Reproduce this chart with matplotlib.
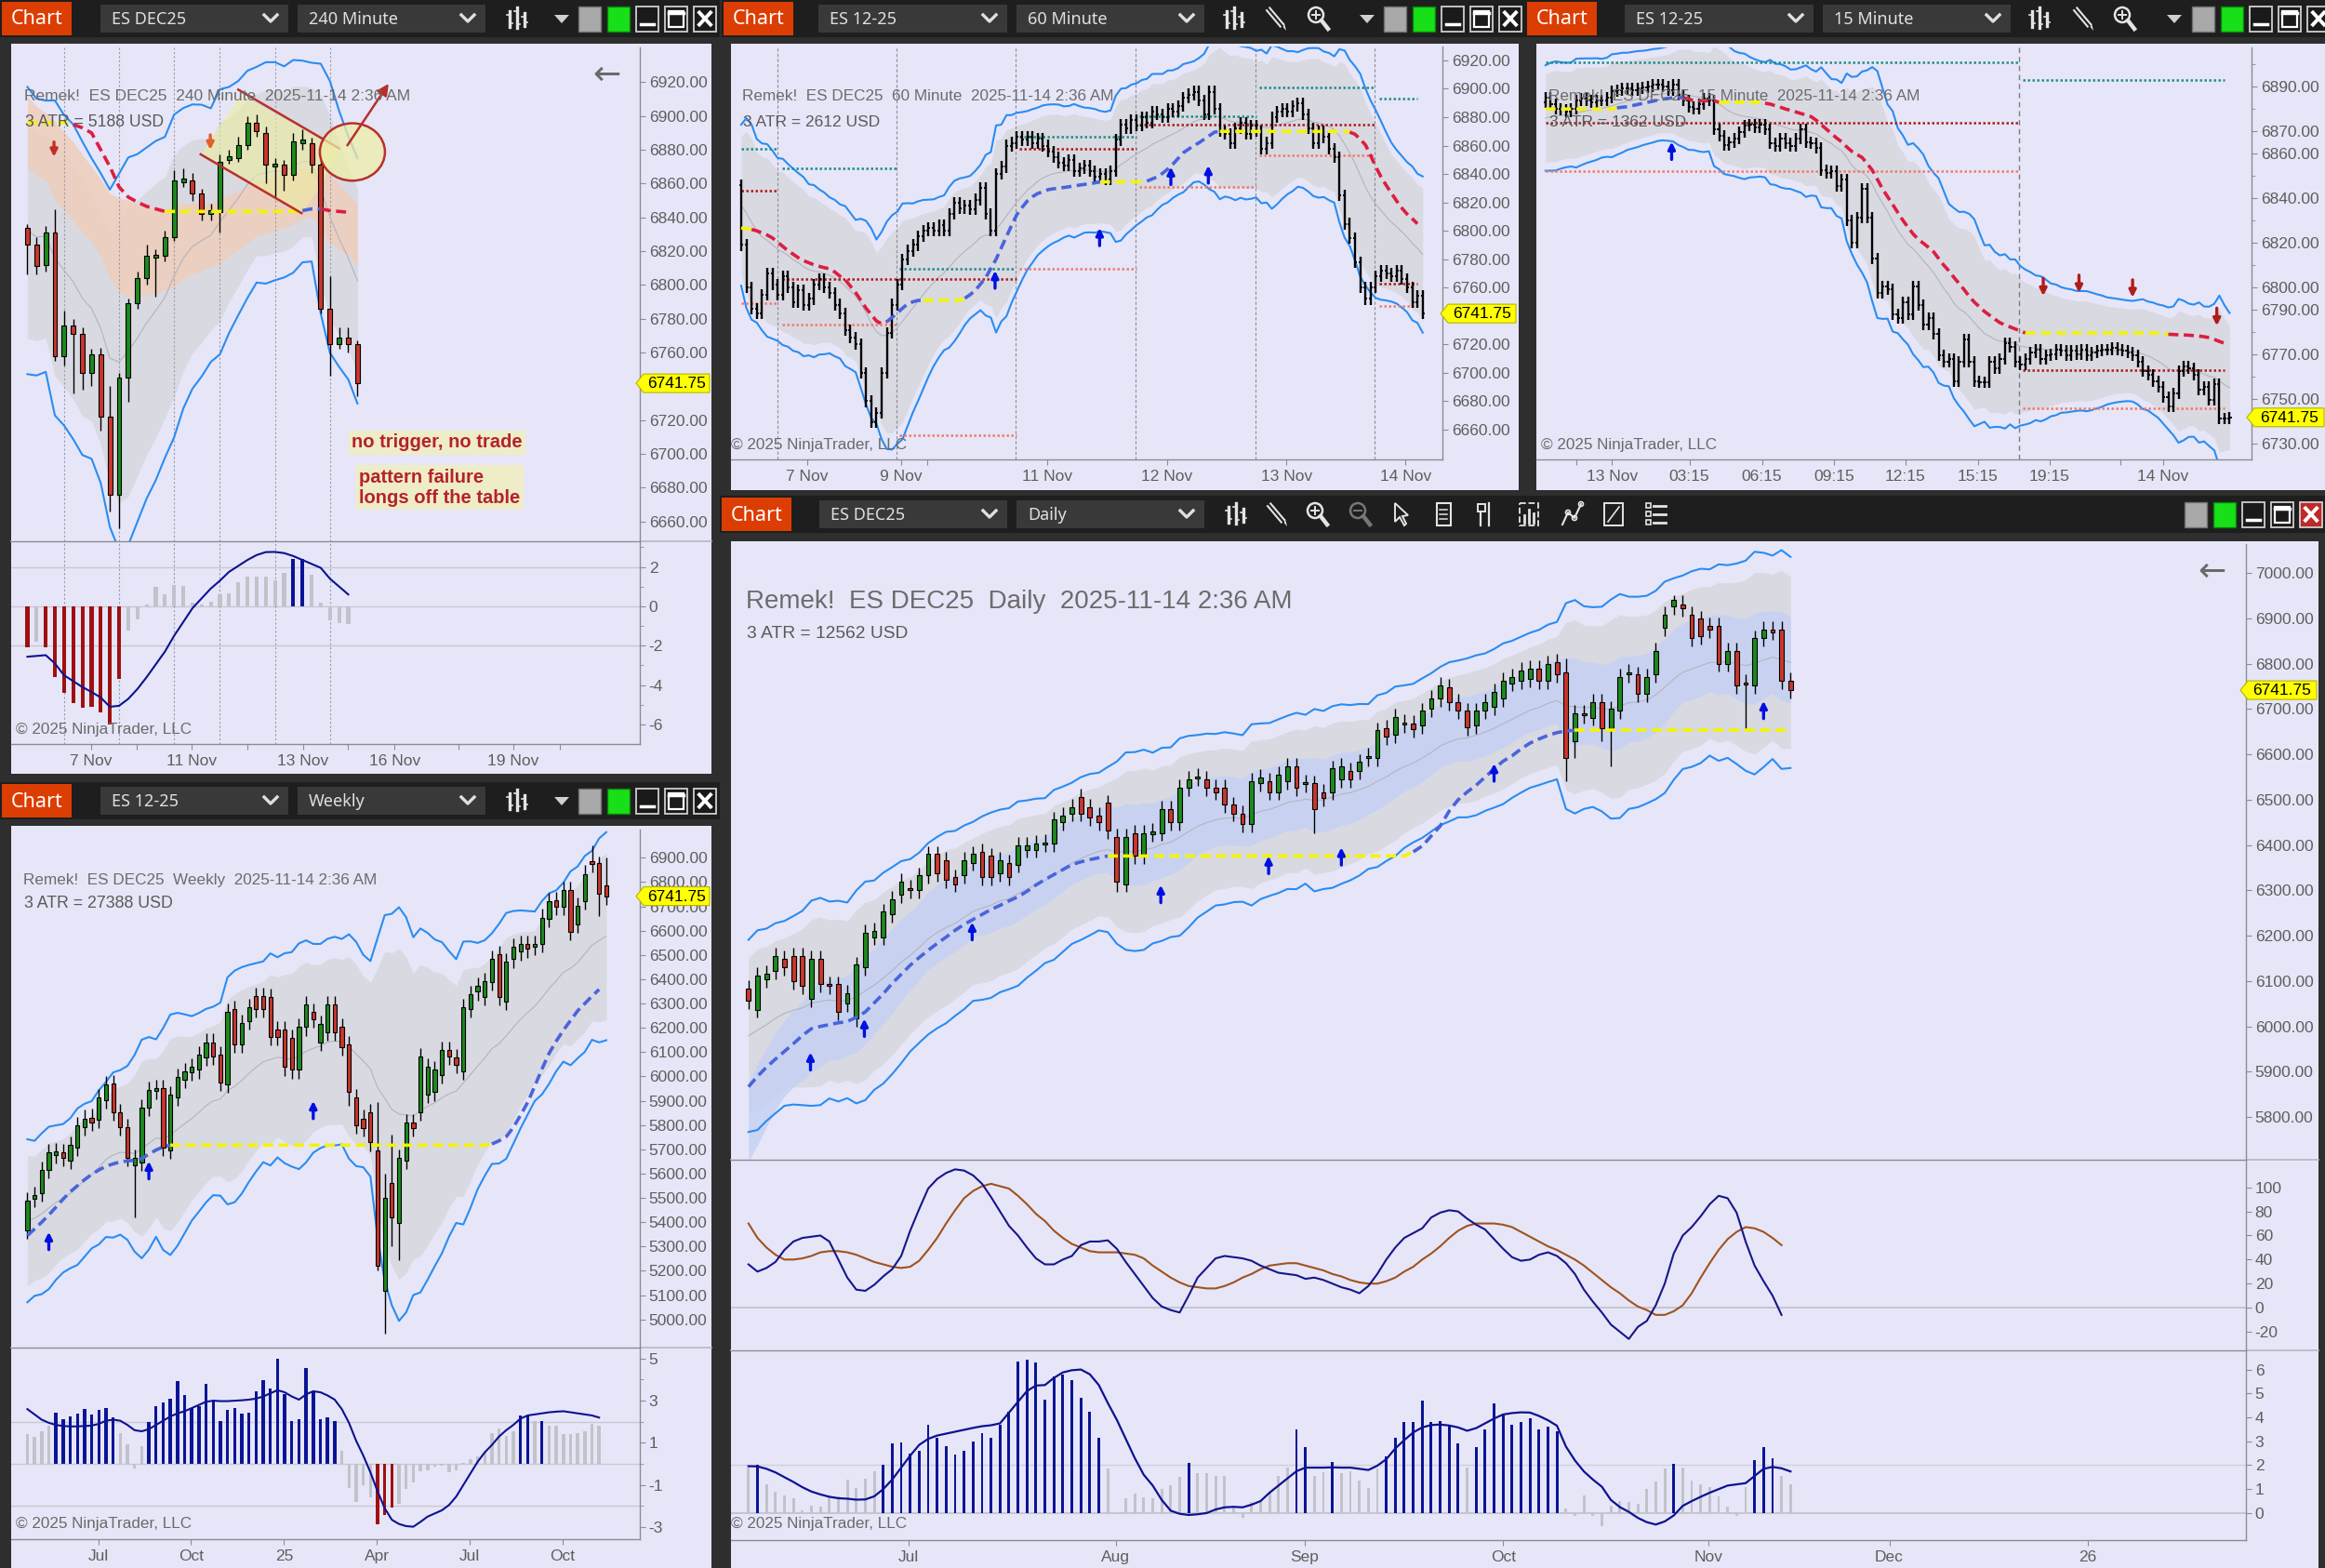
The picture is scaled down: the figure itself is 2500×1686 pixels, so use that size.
import numpy as np
import matplotlib.pyplot as plt
from matplotlib.patches import Rectangle, Polygon, Ellipse, Circle

plt.rcParams['font.family'] = ['Liberation Sans', 'DejaVu Sans']

W, H = 2500, 1686
LAV = '#e6e6f8'
FRAME = '#2e2e2e'
BAR_BG = '#1e1e1e'
TXT = '#5e5e5e'
AXC = '#8c8c96'
GREEN = '#1d8a1d'
RED = '#c9372c'
BANDC = '#2a8cf2'
FILLC = '#d9d9e2'
YEL = '#f4f400'
STOP_UP = '#4a64dc'
STOP_DN = '#dc1e40'
NAVY = '#0d1290'
HGRAY = '#c2c2ca'
HCOL = {'g': HGRAY, 'b': '#0a1496', 'r': '#a01010'}
SCOL = {'y': YEL, 'b': STOP_UP, 'r': STOP_DN}

# ---------------- 240 minute ----------------
m240_open = [6834, 6824, 6812, 6831, 6758, 6776, 6771, 6748, 6759, 6722, 6676, 6745, 6789, 6804, 6816,
             6817, 6828, 6861, 6862, 6854, 6842, 6843, 6874, 6875, 6883, 6896, 6890, 6870, 6871, 6865,
             6884, 6884, 6871, 6786, 6765, 6769, 6765]
m240_close = [6824, 6811, 6831, 6758, 6776, 6771, 6748, 6759, 6722, 6676, 6745, 6789, 6804, 6817, 6818,
              6828, 6862, 6863, 6854, 6842, 6844, 6873, 6876, 6883, 6896, 6891, 6871, 6872, 6865, 6885,
              6886, 6871, 6786, 6765, 6769, 6765, 6741.75]
m240_high = [6836, 6828, 6835, 6845, 6785, 6780, 6775, 6762, 6763, 6740, 6748, 6792, 6808, 6824, 6821,
             6832, 6868, 6869, 6866, 6857, 6848, 6877, 6880, 6888, 6900, 6901, 6894, 6875, 6874, 6890,
             6892, 6887, 6874, 6805, 6775, 6775, 6767]
m240_low = [6806, 6806, 6808, 6755, 6752, 6736, 6738, 6740, 6714, 6666, 6656, 6731, 6786, 6800, 6793,
            6814, 6826, 6858, 6850, 6838, 6838, 6831, 6872, 6873, 6880, 6888, 6860, 6852, 6856, 6862,
            6880, 6866, 6783, 6746, 6762, 6760, 6734]
m240_stop = [6896, 6896, 6896, 6896, 6896, 6895, 6893, 6890, 6880, 6870, 6858, 6852, 6849, 6846.5,
             6845] + [6843.5] * 15 + [6844, 6845, 6845, 6844, 6843.5, 6843]
m240_stop_col = 'yyyyy' + 'r' * 10 + 'y' * 15 + 'bb' + 'rrrr'
m240_hist = [-2.1, -1.8, -2.1, -3.6, -4.4, -4.9, -5.15, -5.1, -5.4, -6.0, -3.7, -1.25, -0.65, 0.1, 1.0,
             0.6, 1.1, 1.05, 0.2, 0.1, 0.25, 0.6, 0.65, 1.2, 1.5, 1.5, 1.5, 1.3, 1.7, 2.4, 2.4, 1.6,
             0.2, -0.7, -0.85, -0.9]
m240_hist_col = 'rgrrrrrrrrr' + 'g' * 18 + 'bb' + 'g' * 5
m240_line = [-2.56, -2.52, -2.48, -2.9, -3.5, -3.8, -4.1, -4.35, -4.63, -5.1, -5.05, -4.7, -4.2, -3.6,
             -2.95, -2.3, -1.5, -0.8, -0.1, 0.4, 0.9, 1.3, 1.75, 2.05, 2.35, 2.6, 2.75, 2.76, 2.7, 2.55,
             2.35, 2.15, 1.95, 1.4, 1.0, 0.6]
m240_sessions = [4, 10, 16, 21, 27, 33]
m240_ticks = [6.97, 11.97, 17.9, 24.0, 30.05, 35.0, 40.05, 47.0, 53.0, 58.1]
m240_ticklabels = ['7 Nov', '', '11 Nov', '', '13 Nov', '', '16 Nov', '', '19 Nov', '']
m240_yticks = [6660, 6680, 6700, 6720, 6760, 6780, 6800, 6820, 6840, 6860, 6880, 6900, 6920]
m240_down = [(2.9, 6875.8, '#c0302a'), (19.95, 6880.0, '#e0602a')]

# ---------------- 60 minute ----------------
m60_close = [6790, 6760, 6745, 6742, 6755, 6770, 6762, 6755, 6768, 6760,
             6750, 6758, 6748, 6752, 6762, 6766, 6760, 6756, 6748, 6742,
             6730, 6725, 6720, 6700, 6680, 6665, 6672, 6700, 6728, 6748,
             6762, 6780, 6786, 6790, 6796, 6800, 6802, 6800, 6804, 6800,
             6812, 6820, 6816, 6818, 6815, 6822, 6830, 6812, 6800, 6840,
             6845, 6860, 6862, 6866, 6864, 6866, 6862, 6865, 6860, 6856,
             6852, 6848, 6846, 6850, 6842, 6844, 6846, 6842, 6838, 6840,
             6836, 6842, 6864, 6875, 6872, 6878, 6874, 6880, 6876, 6884,
             6882, 6880, 6886, 6884, 6888, 6894, 6896, 6898, 6892, 6882,
             6898, 6886, 6870, 6868, 6862, 6872, 6876, 6868, 6874, 6870,
             6858, 6862, 6880, 6884, 6886, 6884, 6888, 6890, 6882, 6872,
             6862, 6870, 6866, 6858, 6852, 6825, 6805, 6795, 6778, 6760,
             6752, 6760, 6768, 6772, 6770, 6768, 6772, 6766, 6760, 6750,
             6754, 6741.75]
m60_first_open = 6832
m60_stop = [6802, 6801.5, 6801, 6800, 6798.5, 6797, 6795, 6792, 6789, 6786, 6783.5, 6781, 6779,
            6777.5, 6776, 6775, 6774, 6773.3, 6771, 6768, 6765.5, 6761, 6756.5, 6751, 6745.5, 6741,
            6736.5, 6734.5, 6736, 6739, 6742, 6745.5, 6748.5, 6750, 6751] + [6751] * 8 + \
           [6752.5, 6755, 6758, 6762.5, 6767, 6773.5, 6780, 6788, 6796, 6804, 6811.5, 6816.5, 6821,
            6824, 6826.3, 6827.5, 6829, 6829.6, 6830, 6830.5, 6831, 6831.6, 6832.2, 6832.7, 6833.2,
            6833.8] + [6834.5] * 9 + \
           [6835, 6836.5, 6838, 6840.5, 6843.5, 6847, 6851, 6855, 6857.5, 6860, 6862, 6864.5, 6867,
            6869.5] + [6870] * 25 + \
           [6869.5, 6868, 6864.5, 6860.5, 6853, 6845, 6838, 6832, 6826.5, 6821, 6816, 6811.8, 6808.5,
            6805]
m60_stop_col = 'yy' + 'r' * 26 + 'b' * 7 + 'y' * 8 + 'b' * 26 + 'y' * 9 + 'b' * 14 + 'y' * 25 + 'r' * 14
m60_sessions = [6.9, 29.9, 52.7, 75.8, 98.8, 121.8]
m60_ticks = [12.7, 30.7, 35.8, 58.8, 81.9, 104.8, 127.7]
m60_ticklabels = ['7 Nov', '9 Nov', '', '11 Nov', '12 Nov', '13 Nov', '14 Nov']
m60_yticks = [6660, 6680, 6700, 6720, 6760, 6780, 6800, 6820, 6840, 6860, 6880, 6900, 6920]
m60_teal = [(0, 6.9, 6858), (7.9, 29.9, 6844), (30.4, 52.4, 6773), (53.4, 76, 6866),
            (76.5, 99, 6881), (99.5, 122, 6901), (122.6, 130, 6893)]
m60_darkred = [(0, 6.9, 6828), (7.9, 52.9, 6766), (53.4, 76, 6858), (76.5, 122, 6875),
               (122.6, 130, 6763)]
m60_salmon = [(0, 6.9, 6749), (7.9, 29.9, 6734), (30.4, 52.9, 6656), (53.4, 76, 6773),
              (76.5, 99, 6831), (99.5, 122, 6853), (122.6, 130, 6747)]
m60_up = [(48.8, 6772), (68.9, 6802), (82.6, 6845), (89.8, 6846)]

# ---------------- 15 minute ----------------
m15_close = [6885, 6882.25, 6880, 6879.5, 6878.75, 6880, 6883.75, 6884.5, 6883.75, 6883,
             6883.75, 6883.75, 6885, 6888, 6888.5, 6889.25, 6889.25, 6888.5, 6889.25, 6889.5,
             6890, 6890.75, 6891, 6890, 6888.5, 6890.75, 6886.5, 6883.75, 6880.75, 6880,
             6882.25, 6884.5, 6883.75, 6871, 6868, 6864, 6865.25, 6866.75, 6869.5, 6872.5,
             6873, 6871.75, 6873, 6871, 6864.5, 6863.25, 6866.75, 6864.5, 6863.25, 6866.75,
             6871, 6865.25, 6864.5, 6862.5, 6852.5, 6851.25, 6852, 6845.5, 6848.5, 6830,
             6820.25, 6831.5, 6844.25, 6831.5, 6813, 6797.5, 6800.5, 6799, 6787.75, 6786.25,
             6793.5, 6787.75, 6800.5, 6792, 6783.5, 6786.25, 6779.25, 6769.5, 6766.5, 6768,
             6758, 6766.5, 6776.5, 6766.5, 6758, 6757.5, 6757.5, 6766.5, 6763.75, 6768,
             6775, 6773.5, 6766.5, 6765.25, 6768, 6770.75, 6772.25, 6768, 6769.5, 6770,
             6772.25, 6771.5, 6769.5, 6771.5, 6770, 6772.25, 6769.5, 6770.75, 6771.5, 6772.25,
             6772.25, 6773, 6772.25, 6771.5, 6770.75, 6769.5, 6766.5, 6762.5, 6761, 6758,
             6755.25, 6751, 6746.75, 6752.5, 6762.5, 6764.5, 6763.75, 6761, 6754, 6755.25,
             6749.75, 6756.75, 6741.25, 6741.25, 6741.75]
m15_first_open = 6883
m15_stop = [6880] * 14 + \
           [6880.5, 6880.8, 6881, 6881.5, 6882, 6882.5, 6883, 6883.5, 6884, 6884.4, 6884.8, 6885,
            6885.3, 6885, 6884.5] + [6883.7] * 5 + [6883] * 9 + \
           [6882.6, 6882.2, 6881.5, 6880.8, 6880, 6879.4, 6878.7, 6878, 6877.3, 6876.6, 6875, 6873,
            6871, 6869, 6867, 6865.3, 6863, 6861, 6859.6, 6858.3, 6855.5, 6852.6, 6848.5, 6844.2,
            6840.7, 6837.2, 6833.6, 6830.1, 6827, 6824, 6821.6, 6819.8, 6818, 6816, 6813, 6810,
            6807.5, 6804.5, 6801.8, 6799, 6796, 6793.4, 6791.3, 6789.2, 6787.5, 6785.8, 6784.2,
            6783.2, 6782.3, 6781.4, 6780.5] + [6779.6] * 28 + \
           [6779, 6778.9, 6778.8, 6778.7, 6778.6, 6778.4, 6778.2, 6777.9, 6777.5, 6776.7, 6775.8, 6775]
m15_stop_col = 'y' * 14 + 'b' * 13 + 'r' * 7 + 'y' * 9 + 'r' * 51 + 'y' * 28 + 'r' * 12
m15_sessions = [92.7]
m15_ticks = [6, 13, 28.2, 42.4, 56.5, 70.5, 84.7, 98.7, 112.7, 121]
m15_ticklabels = ['', '13 Nov', '03:15', '06:15', '09:15', '12:15', '15:15', '19:15', '', '14 Nov']
m15_yticks = [6730, 6750, 6770, 6790, 6800, 6820, 6840, 6860, 6870, 6890]
m15_teal = [(0, 93, 6901), (93.5, 133, 6893)]
m15_darkred = [(0, 93, 6874), (93.5, 133, 6763)]
m15_salmon = [(0, 93, 6852), (93.5, 133, 6746)]
m15_up = [(24.7, 6865.3)]
m15_down = [(97.5, 6796.2), (104.5, 6797.6), (115.0, 6795.5), (131.5, 6782.8)]

# ---------------- weekly ----------------
wk_open = [5366, 5496, 5521, 5614, 5676, 5686, 5655, 5707, 5790, 5831, 5821, 5903, 5972, 5852, 5790,
           5635, 5645, 5872, 5939, 5951, 5697, 5914, 5986, 6017, 6027, 6079, 6141, 6089, 5966, 6276,
           6131, 6228, 6331, 6331, 6327, 6193, 6193, 6158, 6027, 6203, 6265, 6141, 6183, 6296, 6203,
           6131, 5914, 5827, 5852, 5697, 5118, 5562, 5397, 5655, 5811, 5852, 5924, 5935, 6007, 6110,
           6079, 6021, 6276, 6348, 6327, 6389, 6503, 6307, 6482, 6513, 6544, 6534, 6544, 6648, 6726,
           6699, 6766, 6627, 6720, 6885, 6879, 6786]
wk_close = [5490, 5511, 5614, 5686, 5691, 5666, 5717, 5800, 5827, 5810, 5914, 5966, 5852, 5790, 5666,
            5666, 5872, 5945, 5951, 5707, 5924, 5996, 6021, 6038, 6089, 6141, 6083, 5976, 6265, 6131,
            6220, 6286, 6276, 6276, 6162, 6162, 6038, 6027, 6203, 6296, 6234, 6214, 6296, 6183, 6121,
            5935, 5800, 5786, 5728, 5221, 5500, 5418, 5666, 5811, 5786, 6083, 6038, 6027, 6110, 6083,
            6048, 6286, 6338, 6373, 6393, 6482, 6327, 6472, 6534, 6544, 6524, 6544, 6654, 6720, 6699,
            6766, 6596, 6703, 6834, 6875, 6751, 6741.75]
wk_high_ext = {49: 5893, 50: 5600, 51: 5760, 79: 6952, 80: 6906, 81: 6900, 19: 5985}
wk_low_ext = {15: 5418, 49: 5200, 50: 4942, 51: 5300, 52: 5242, 80: 6658, 45: 5880}
wk_stop = [5345, 5372, 5400, 5430, 5462, 5495, 5525, 5550, 5575, 5597, 5615, 5630, 5640, 5648, 5652,
           5655, 5662, 5680, 5697, 5710] + [5717] * 45 + \
          [5722, 5735, 5752, 5790, 5840, 5893, 5960, 6030, 6095, 6145, 6190, 6230, 6270, 6300, 6330, 6358]
wk_stop_col = 'b' * 20 + 'y' * 45 + 'b' * 16
wk_hist = [1.43, 1.3, 1.55, 1.8, 2.43, 2.14, 2.26, 2.38, 2.62, 2.33,
           2.57, 2.67, 2.2, 1.48, 0.95, -0.2, 0.83, 2.0, 2.74, 2.9,
           3.1, 3.93, 3.29, 2.67, 2.74, 3.81, 3.05, 2.02, 2.57, 2.67,
           2.38, 2.43, 3.45, 3.98, 3.57, 5.0, 3.33, 2.02, 2.14, 4.57,
           3.45, 2.14, 2.19, 2.02, 0.64, -1.14, -1.8, -1.0, -1.6, -2.86,
           -2.43, -2.07, -1.9, -1.19, -0.86, -0.36, -0.29, -0.14, -0.1, -0.38,
           -0.31, 0.05, 0.24, 0.36, 0.57, 1.48, 1.67, 1.33, 1.57, 2.31,
           2.31, 2.05, 2.05, 1.8, 1.8, 1.43, 1.43, 1.48, 1.57, 1.9, 1.8]
wk_hist_col = 'gggg' + 'b' * 9 + 'gggg' + 'b' * 27 + 'g' * 5 + 'rrr' + 'g' * 17 + 'bb' + 'g' + 'b' + 'g' * 8
wk_line = [2.6, 2.35, 2.1, 1.95, 1.85, 1.8, 1.78, 1.78, 1.8, 1.82, 1.9, 2.05, 2.1, 2.05, 1.85, 1.6,
           1.55, 1.65, 1.85, 2.05, 2.25, 2.4, 2.5, 2.65, 2.8, 2.95, 3.0, 2.98, 2.98, 3.0, 3.02, 3.05,
           3.1, 3.2, 3.35, 3.5, 3.4, 3.2, 3.05, 3.3, 3.45, 3.4, 3.25, 3.05, 2.6, 1.95, 1.1, 0.4, -0.4,
           -1.3, -2.1, -2.65, -2.85, -2.95, -2.98, -2.75, -2.5, -2.35, -2.2, -1.95, -1.55, -1.0, -0.45,
           0.1, 0.55, 0.9, 1.3, 1.6, 1.85, 2.15, 2.3, 2.35, 2.4, 2.45, 2.48, 2.5, 2.45, 2.4, 2.35, 2.3, 2.2]
wk_ticks = [9.9, 22.9, 35.9, 48.9, 61.9, 74.9]
wk_ticklabels = ['Jul', 'Oct', '25', 'Apr', 'Jul', 'Oct']
wk_up = [(3.0, 5360), (17.0, 5651), (40.0, 5899)]

# ---------------- daily ----------------
d1_open = [6084, 6037, 6103, 6122, 6150, 6155, 6155, 6060, 6150, 6093, 6093, 6051, 6018, 6131, 6197,
           6197, 6248, 6291, 6305, 6300, 6333, 6380, 6366, 6329, 6333, 6361, 6385, 6376, 6338, 6361,
           6357, 6390, 6390, 6402, 6404, 6451, 6470, 6507, 6484, 6465, 6493, 6418, 6314, 6427, 6376,
           6425, 6427, 6479, 6451, 6526, 6548, 6545, 6526, 6526, 6489, 6470, 6446, 6536, 6541, 6517,
           6541, 6574, 6534, 6536, 6517, 6517, 6545, 6564, 6564, 6592, 6592, 6658, 6644, 6666, 6668,
           6663, 6700, 6724, 6748, 6715, 6696, 6663, 6696, 6705, 6724, 6757, 6762, 6766, 6790, 6762,
           6804, 6781, 6630, 6691, 6681, 6715, 6658, 6696, 6776, 6776, 6733, 6776, 6879, 6927, 6931,
           6908, 6899, 6884, 6884, 6800, 6828, 6758, 6752, 6856, 6875, 6875, 6762]
d1_close = [6056, 6112, 6117, 6155, 6131, 6100, 6089, 6150, 6093, 6089, 6032, 6074, 6136, 6206, 6211,
            6253, 6281, 6319, 6300, 6333, 6380, 6338, 6324, 6314, 6366, 6380, 6329, 6329, 6366, 6329,
            6399, 6399, 6404, 6406, 6456, 6465, 6484, 6470, 6460, 6451, 6432, 6319, 6418, 6376, 6427,
            6430, 6479, 6451, 6526, 6545, 6552, 6526, 6517, 6489, 6470, 6446, 6541, 6550, 6517, 6555,
            6574, 6526, 6538, 6479, 6503, 6569, 6574, 6545, 6583, 6597, 6653, 6639, 6682, 6670, 6655,
            6696, 6724, 6752, 6715, 6696, 6659, 6696, 6715, 6738, 6762, 6771, 6785, 6790, 6762, 6799,
            6776, 6592, 6691, 6686, 6715, 6658, 6700, 6771, 6781, 6733, 6771, 6828, 6908, 6941, 6922,
            6856, 6861, 6875, 6800, 6828, 6752, 6755, 6856, 6875, 6870, 6762, 6741.75]
d1_high_ext = {103: 6952, 104: 6952, 91: 6812}
d1_low_ext = {91: 6540, 92: 6592, 95: 6630, 96: 6573, 63: 6427, 41: 6296, 111: 6653}
d1_stop = [5867, 5890, 5910, 5928, 5945, 5962, 5980, 5995, 6000, 6004, 6008, 6011, 6020, 6032, 6052,
           6072, 6095, 6115, 6135, 6152, 6168, 6183, 6197, 6212, 6225, 6236, 6247, 6258, 6267, 6277,
           6286, 6298, 6312, 6324, 6335, 6346, 6357, 6363, 6368, 6372] + [6376] * 34 + \
          [6385, 6398, 6420, 6442, 6475, 6500, 6517, 6532, 6550, 6568, 6585, 6597, 6612, 6625, 6634,
           6642, 6648, 6652] + [6653] * 25
d1_stop_col = 'b' * 40 + 'y' * 34 + 'b' * 18 + 'y' * 25
d1_hist = [1.9, 2.0, 1.2, 0.9, 0.75, 0.6, 0.1, 0.3, 0.25, 0.75, 0.7, 1.4, 1.05, 1.45, 1.75, 2.0,
           2.9, 2.95, 2.5, 2.6, 3.7, 3.15, 2.8, 2.45, 2.6, 3.0, 3.35, 3.15, 3.7, 4.25, 6.35, 6.4,
           6.3, 4.75, 5.7, 5.8, 5.55, 4.8, 4.25, 3.15, 1.85, -0.05, 0.6, 0.8, 0.65, 0.6, 1.0, 1.15,
           1.5, 2.1, 1.65, 1.65, 1.55, 1.55, 0.3, -0.2, 0.45, 0.55, 0.85, 1.55, 1.9, 3.5, 2.75, 1.55,
           1.7, 2.15, 1.65, 1.75, 1.35, 1.05, 1.85, 2.35, 3.15, 3.8, 3.8, 4.7, 3.8, 3.85, 3.7, 2.9,
           1.9, 2.75, 3.5, 4.6, 4.15, 3.7, 3.8, 3.95, 3.5, 3.6, 3.4, 0.2, -0.1, 0.75, -0.1, -0.55,
           0.3, 0.5, 0.45, 0.4, 1.0, 1.3, 1.85, 2.05, 1.9, 1.35, 1.2, 1.1, 0.7, 0.25, -0.1, 1.1,
           2.2, 2.75, 2.3, 1.55, 1.2]
d1_hist_blue = [1] + list(range(15, 40)) + [49, 61, 62, 65] + list(range(71, 80)) + \
    list(range(81, 91)) + [103, 112, 113, 114]
d1_hist_line = [1.96, 1.95, 1.85, 1.7, 1.5, 1.3, 1.08, 0.9, 0.78, 0.68, 0.62, 0.6, 0.56, 0.57, 0.7,
                1.0, 1.4, 1.9, 2.4, 2.85, 3.1, 3.24, 3.32, 3.4, 3.48, 3.56, 3.63, 3.67, 3.75, 4.2,
                4.65, 5.1, 5.33, 5.35, 5.65, 5.88, 5.97, 6.0, 5.8, 5.35, 4.6, 3.9, 3.1, 2.3, 1.6,
                1.15, 0.55, 0.1, -0.03, -0.08, -0.05, 0.0, 0.15, 0.24, 0.26, 0.24, 0.35, 0.5, 0.85,
                1.15, 1.45, 1.75, 1.9, 1.9, 1.9, 1.91, 1.9, 1.9, 1.85, 1.8, 1.98, 2.25, 2.7, 3.05,
                3.37, 3.58, 3.68, 3.7, 3.66, 3.58, 3.44, 3.55, 3.75, 3.95, 4.12, 4.18, 4.21, 4.2,
                4.06, 3.88, 3.65, 2.78, 2.2, 1.74, 1.4, 1.1, 0.55, 0.25, 0.05, -0.2, -0.38, -0.48,
                -0.35, -0.1, 0.3, 0.5, 0.68, 0.85, 1.0, 1.15, 1.2, 1.25, 1.55, 1.85, 1.93, 1.87, 1.74]
d1_osc_fast = [36, 30, 33, 38, 48, 55, 58, 59, 60, 55, 40, 25, 15, 14, 19, 26, 32, 43, 64, 82, 99,
               107, 112, 115, 114, 110, 103, 92, 80, 68, 60, 50, 41, 36, 36, 40, 43, 52, 55, 55, 56,
               49, 38, 28, 18, 8, 1, -2, -4, 10, 25, 33, 41, 43, 42, 41, 39, 35, 32, 29, 28, 27, 24,
               25, 23, 20, 17, 15, 12, 18, 28, 40, 50, 58, 62, 66, 75, 79, 81, 80, 74, 69, 65, 57,
               49, 42, 39, 40, 44, 46, 43, 37, 28, 15, 5, -4, -14, -20, -26, -16, -11, 2, 20, 45,
               60, 67, 76, 86, 93, 91, 79, 55, 35, 22, 10, -6]
d1_osc_slow = [70, 58, 50, 44, 40, 40, 41, 43, 46, 47, 47, 46, 44, 41, 38, 36, 34, 33, 34, 39, 48,
               58, 70, 81, 91, 97, 101, 103, 101, 99, 93, 86, 78, 72, 64, 58, 53, 50, 47, 46, 46,
               46, 45, 44, 41, 35, 30, 25, 21, 18, 17, 16, 16, 18, 21, 25, 28, 32, 35, 36, 37, 37,
               35, 33, 31, 28, 26, 23, 21, 20, 20, 22, 25, 30, 34, 40, 45, 51, 58, 64, 68, 70, 70,
               70, 69, 67, 63, 59, 55, 51, 48, 44, 40, 35, 29, 23, 17, 12, 6, 1, -2, -6, -6, -3, 2,
               12, 25, 37, 48, 57, 63, 67, 66, 63, 58, 52]
d1_ticks = [17.8, 40.9, 61.9, 84.0, 106.9, 127.0, 149.1]
d1_ticklabels = ['Jul', 'Aug', 'Sep', 'Oct', 'Nov', 'Dec', '26']
d1_up = [(6.9, 5943), (12.9, 6017), (24.9, 6230), (45.9, 6312), (57.9, 6376), (66.0, 6395),
         (83.0, 6580), (113.0, 6718)]
LAST = 6741.75


# ---------------- helpers ----------------
def ema(x, span, seed):
    a = 2.0 / (span + 1.0)
    out = np.empty(len(x))
    v = seed
    for i, xi in enumerate(x):
        v += a * (xi - v)
        out[i] = v
    return out


def true_range(h, l, c):
    pc = np.r_[c[0], c[:-1]]
    return np.maximum(h, pc) - np.minimum(l, pc)


def hl_from(o, c, wick, hi_ext=None, lo_ext=None):
    h = np.maximum(o, c) + wick
    l = np.minimum(o, c) - wick
    for k, v in (hi_ext or {}).items():
        h[k] = v
    for k, v in (lo_ext or {}).items():
        l[k] = v
    return h, l


def plot_stop(ax, vals, cols, lw=2.6):
    vals = np.asarray(vals, float)
    n = len(vals)
    start = 0
    for i in range(1, n + 1):
        if i == n or cols[i] != cols[start]:
            end = min(i, n - 1)
            xs = np.arange(start, end + 1)
            ax.plot(xs, vals[start:end + 1], color=SCOL[cols[start]], lw=lw, ls=(0, (3, 1.6)),
                    zorder=6, dash_capstyle='butt')
            start = i


def bands(ax, c, atr, span, seed, kg, kb):
    x = np.arange(len(c))
    mid = ema(c, span, seed)
    ax.fill_between(x, mid - kg * atr, mid + kg * atr, color=FILLC, lw=0, zorder=1)
    ax.plot(x, mid + kb * atr, color=BANDC, lw=1.5, zorder=3)
    ax.plot(x, mid - kb * atr, color=BANDC, lw=1.5, zorder=3)
    ax.plot(x, mid, color='#b4b4bc', lw=0.8, zorder=2)


def candles(ax, o, h, l, c, width):
    x = np.arange(len(c))
    o, c = np.asarray(o, float), np.asarray(c, float)
    ax.vlines(x, l, h, color='black', lw=1.0, zorder=4)
    body = np.maximum(np.abs(c - o), 0.3)
    ax.bar(x, body, width, bottom=np.minimum(o, c), color=np.where(c >= o, GREEN, RED),
           edgecolor='black', linewidth=0.8, zorder=5)


def ohlc(ax, o, h, l, c, tick):
    x = np.arange(len(c))
    ax.vlines(x, l, h, color='black', lw=1.7, zorder=5)
    ax.hlines(o, x - tick, x, color='black', lw=1.3, zorder=5)
    ax.hlines(c, x, x + tick, color='black', lw=1.3, zorder=5)


def arrows(ax, pts, color, up=True, length=19):
    for p in pts:
        ax.annotate('', xy=(p[0], p[1]), xytext=(0, -length if up else length),
                    textcoords='offset pixels', zorder=7,
                    arrowprops=dict(arrowstyle='-|>', color=color, lw=2.4, mutation_scale=11,
                                    shrinkA=0, shrinkB=0))


def levels(ax, segs, color):
    for a, b, v in segs:
        ax.hlines(v, a, b, color=color, lw=1.8, ls=(0, (1, 1)), zorder=3)


def px_axes(x0, y0, x1, y1):
    return fig.add_axes([x0 / W, 1 - y1 / H, (x1 - x0) / W, (y1 - y0) / H])


def style(ax, xlim, ylim, yticks, ylabels, minor=None, bottom=False, top=False):
    ax.set_facecolor(LAV)
    ax.set_xlim(*xlim)
    ax.set_ylim(*ylim)
    ax.yaxis.tick_right()
    ax.set_yticks(yticks)
    ax.set_yticklabels(ylabels)
    if minor is not None:
        ax.set_yticks(minor, minor=True)
    for s in ax.spines.values():
        s.set_color(AXC)
        s.set_linewidth(1.0)
    ax.spines['left'].set_visible(False)
    ax.spines['top'].set_visible(top)
    ax.spines['bottom'].set_visible(bottom)
    ax.tick_params(axis='y', which='both', colors=AXC, labelcolor=TXT, labelsize=12.5,
                   length=4, pad=3)
    ax.tick_params(axis='y', which='minor', length=3)
    if not bottom:
        ax.set_xticks([])


def xaxis(ax, ticks, labels):
    ax.set_xticks(ticks)
    ax.set_xticklabels(labels)
    ax.tick_params(axis='x', colors=AXC, labelcolor=TXT, labelsize=12.5, length=4, pad=4)


def fmt2(vals):
    return ['%.2f' % v for v in vals]


# ---------------- figure & chrome ----------------
fig = plt.figure(figsize=(W / 100, H / 100), dpi=100)
fig.patch.set_facecolor(FRAME)
bg = fig.add_axes([0, 0, 1, 1])
bg.set_xlim(0, W)
bg.set_ylim(H, 0)
bg.axis('off')

for x0, y0, x1, y1 in [(12, 47, 765, 832), (786, 47, 1633, 527), (1652, 47, 2500, 527),
                       (12, 888, 765, 1686), (786, 582, 2493, 1686)]:
    bg.add_patch(Rectangle((x0, y0), x1 - x0, y1 - y0, fc=LAV, ec='none'))
for x0, x1, y in [(12, 765, 582), (12, 765, 1449), (786, 2493, 1247), (786, 2493, 1452)]:
    bg.plot([x0, x1], [y, y], color='#b8b8c4', lw=1.2)

WH = '#e4e4e4'


def icon(kind, cx, cy):
    if kind == 'bars':
        for dx, t, b in [(-8, -8, 9), (0, -12, 10), (8, -6, 8)]:
            bg.plot([cx + dx, cx + dx], [cy + t, cy + b], color=WH, lw=2.4)
            bg.plot([cx + dx - 3, cx + dx], [cy + t + 4, cy + t + 4], color=WH, lw=1.2)
            bg.plot([cx + dx, cx + dx + 3], [cy + b - 4, cy + b - 4], color=WH, lw=1.2)
    elif kind == 'pencil':
        bg.plot([cx - 9, cx + 7], [cy - 11, cy + 8], color=WH, lw=4.5, solid_capstyle='butt')
        bg.plot([cx - 9, cx + 7], [cy - 11, cy + 8], color=BAR_BG, lw=1.5)
        bg.add_patch(Polygon([(cx + 5, cy + 6), (cx + 11, cy + 13), (cx + 9, cy + 5)], fc=WH))
    elif kind in ('zoom', 'zoomout'):
        col = WH if kind == 'zoom' else '#777777'
        bg.add_patch(Circle((cx - 3, cy - 4), 8, fill=False, ec=col, lw=1.8))
        bg.plot([cx + 3, cx + 10], [cy + 2, cy + 11], color=col, lw=3.2)
        bg.plot([cx - 7, cx + 1], [cy - 4, cy - 4], color=col, lw=1.4)
        if kind == 'zoom':
            bg.plot([cx - 3, cx - 3], [cy - 8, cy], color=col, lw=1.4)
    elif kind == 'tri':
        bg.add_patch(Polygon([(cx - 8, cy - 4), (cx + 8, cy - 4), (cx, cy + 5)], fc='#d0d0d0'))
    elif kind == 'cursor':
        bg.add_patch(Polygon([(cx - 6, cy - 12), (cx - 6, cy + 8), (cx - 1, cy + 3), (cx + 4, cy + 12),
                              (cx + 6, cy + 10), (cx + 2, cy + 2), (cx + 8, cy + 1)],
                             fill=False, ec=WH, lw=1.4))
    elif kind == 'doc':
        bg.add_patch(Rectangle((cx - 8, cy - 12), 15, 24, fill=False, ec=WH, lw=1.5))
        for dy in (-5, 0, 5):
            bg.plot([cx - 5, cx + 3], [cy + dy, cy + dy], color=WH, lw=1.1)
    elif kind == 'split':
        bg.add_patch(Rectangle((cx - 9, cy - 11), 8, 8, fill=False, ec=WH, lw=1.4))
        bg.plot([cx + 3, cx + 3], [cy - 12, cy + 12], color=WH, lw=1.6)
        bg.plot([cx - 6, cx - 6], [cy - 3, cy + 12], color=WH, lw=1.6)
    elif kind == 'hist':
        bg.add_patch(Rectangle((cx - 10, cy - 12), 20, 24, fill=False, ec=WH, lw=1.3, ls='--'))
        for dx, hh in [(-5, 8), (0, 14), (5, 10)]:
            bg.plot([cx + dx, cx + dx], [cy + 9, cy + 9 - hh], color=WH, lw=2)
    elif kind == 'line':
        bg.plot([cx - 10, cx - 4, cx + 3, cx + 10], [cy + 11, cy - 2, cy + 4, cy - 11], color=WH, lw=1.5)
        for px, py in [(cx - 4, cy - 2), (cx + 3, cy + 4), (cx + 10, cy - 11)]:
            bg.add_patch(Circle((px, py), 2.5, fill=False, ec=WH, lw=1.2))
    elif kind == 'calc':
        bg.add_patch(Rectangle((cx - 10, cy - 12), 20, 24, fill=False, ec=WH, lw=1.4))
        bg.plot([cx - 6, cx + 6], [cy + 8, cy - 8], color=WH, lw=1.2)
    elif kind == 'list':
        for dy in (-9, 0, 9):
            bg.add_patch(Rectangle((cx - 10, cy + dy - 3), 5, 5, fill=False, ec=WH, lw=1.2))
            bg.plot([cx - 2, cx + 11], [cy + dy, cy + dy], color=WH, lw=2)


def title_bar(x0, x1, y0, y1, dds, icons, bx, close_red=False):
    bg.add_patch(Rectangle((x0, y0), x1 - x0, y1 - y0, fc=BAR_BG, ec='none'))
    bg.add_patch(Rectangle((x0 + 2, y0 + 2), 75, y1 - y0 - 4, fc='#dc3d02', ec='none'))
    cy = (y0 + y1) / 2
    bg.text(x0 + 39.5, cy + 1, 'Chart', color='white', fontsize=15.5, ha='center', va='center',
            family=['Noto Sans', 'DejaVu Sans'])
    for dx0, dx1, label in dds:
        bg.add_patch(Rectangle((dx0, y0 + 5), dx1 - dx0, y1 - y0 - 10, fc='#393939', ec='none'))
        bg.text(dx0 + 12, cy + 1, label, color='#e0e0e0', fontsize=13, ha='left', va='center',
                family=['Noto Sans', 'DejaVu Sans'])
        bg.plot([dx1 - 26, dx1 - 19, dx1 - 12], [cy - 4, cy + 3, cy - 4], color='#e0e0e0', lw=2.4)
    for kind, cx in icons:
        icon(kind, cx, cy)
    bw, bh = 24, 27
    by = cy - bh / 2
    bg.add_patch(Rectangle((bx, by), bw, bh, fc='#a9a9a9', ec='#707070', lw=1))
    bg.add_patch(Rectangle((bx + 31, by), bw, bh, fc='#18e018', ec='#0c800c', lw=1))
    for j in range(3):
        fx = bx + 62 + 31 * j
        fc = '#c0282a' if (j == 2 and close_red) else '#1a1a1a'
        bg.add_patch(Rectangle((fx, by), bw, bh, fc=fc, ec='#cfcfcf', lw=1.3))
        if j == 0:
            bg.plot([fx + 5, fx + 19], [by + 19, by + 19], color='white', lw=2.5)
        elif j == 1:
            bg.add_patch(Rectangle((fx + 4, by + 5), 16, 17, fill=False, ec='white', lw=1.6))
            bg.plot([fx + 4, fx + 20], [by + 7, by + 7], color='white', lw=2.5)
        else:
            bg.plot([fx + 6, fx + 18], [by + 7, by + 20], color='white', lw=2.8)
            bg.plot([fx + 6, fx + 18], [by + 20, by + 7], color='white', lw=2.8)


title_bar(0, 774, 0, 40, [(108, 310, 'ES DEC25'), (320, 522, '240 Minute')],
          [('bars', 556), ('tri', 604)], 622)
title_bar(776, 1640, 0, 40, [(880, 1083, 'ES 12-25'), (1093, 1295, '60 Minute')],
          [('bars', 1327), ('pencil', 1372), ('zoom', 1418), ('tri', 1470)], 1488)
title_bar(1640, 2500, 0, 40, [(1747, 1950, 'ES 12-25'), (1960, 2162, '15 Minute')],
          [('bars', 2193), ('pencil', 2240), ('zoom', 2285), ('tri', 2338)], 2357)
title_bar(0, 774, 841, 881, [(108, 310, 'ES 12-25'), (320, 522, 'Weekly')],
          [('bars', 556), ('tri', 604)], 622)
title_bar(774, 2500, 533, 573, [(881, 1083, 'ES DEC25'), (1093, 1295, 'Daily')],
          [('bars', 1329), ('pencil', 1373), ('zoom', 1417), ('zoomout', 1463), ('cursor', 1506),
           ('doc', 1553), ('split', 1598), ('hist', 1644), ('line', 1690), ('calc', 1735),
           ('list', 1780)], 2349, close_red=True)

# ---------------- 240 minute chart ----------------
o = np.array(m240_open, float)
c = np.array(m240_close, float)
h = np.array(m240_high, float)
l = np.array(m240_low, float)
atr = ema(true_range(h, l, c), 20, 36)
xl = (-1.77, 66.8)
ax = px_axes(12, 51, 688, 582)
axh = px_axes(12, 582, 688, 800)
style(ax, xl, (6648.2, 6940.6), m240_yticks, fmt2(m240_yticks))
style(axh, xl, (-6.99, 3.3), [2, 0, -2, -4, -6], ['2', '0', '-2', '-4', '-6'],
      minor=[3, 1, -1, -3, -5], bottom=True, top=True)
xaxis(axh, m240_ticks, m240_ticklabels)
x = np.arange(len(c))
zone = ema(c, 30, 6895)
ax.fill_between(x, zone - 0.6 * atr, zone + 0.6 * atr, color='#f0cdb8', alpha=0.8, lw=0, zorder=1.5)
bands(ax, c, atr, 10, 6834, 1.8, 2.4)
for s in m240_sessions:
    ax.axvline(s, color='#9c9ca8', lw=0.8, ls=(0, (2, 2)), zorder=1.8)
    axh.axvline(s, color='#9c9ca8', lw=0.8, ls=(0, (2, 2)), zorder=1)
flag = Polygon([(19.0, 6877.8), (23.2, 6912.6), (34.1, 6880.8), (31.8, 6856.6), (29.9, 6842.5)],
               fc='#eeeea0', alpha=0.6, ec='none', zorder=2.5)
ax.add_patch(flag)
candles(ax, o, h, l, c, 0.5)
plot_stop(ax, m240_stop, m240_stop_col)
ax.plot([23.0, 34.0], [6915.6, 6880.8], color='#b8302a', lw=1.8, zorder=7)
ax.plot([18.9, 29.9], [6877.3, 6842.5], color='#b8302a', lw=1.8, zorder=7)
ax.add_patch(Ellipse((35.45, 6878.7), 7.1, 34, fc='#eeeea8', alpha=0.75, ec='none', zorder=7))
ax.add_patch(Ellipse((35.45, 6878.7), 7.1, 34, fill=False, ec='#b8302a', lw=1.8, zorder=7))
ax.annotate('', xy=(39.4, 6919.1), xytext=(34.9, 6882.6), zorder=7,
            arrowprops=dict(arrowstyle='-|>', color='#b8302a', lw=1.8, mutation_scale=18,
                            shrinkA=0, shrinkB=0))
for bx_, py, colr in m240_down:
    arrows(ax, [(bx_, py)], colr, up=False, length=16)
ax.text(35.4, 6706.8, 'no trigger, no trade', color='#b4232a', fontsize=14.5, weight='bold',
        va='center', ha='left', zorder=8, bbox=dict(fc='#efecc8', ec='none', pad=2.5))
ax.text(36.2, 6680.0, 'pattern failure\nlongs off the table', color='#b4232a', fontsize=14.5,
        weight='bold', va='center', ha='left', linespacing=1.2, zorder=8,
        bbox=dict(fc='#efecc8', ec='none', pad=2.5))
hx = np.arange(len(m240_hist))
for yv in (2, 0, -2):
    axh.axhline(yv, color='#c8c8d0', lw=1, zorder=0.5)
axh.bar(hx, m240_hist, 0.42, color=[HCOL[k] for k in m240_hist_col], zorder=3)
axh.plot(np.arange(len(m240_line)), m240_line, color=NAVY, lw=1.5, zorder=4)
ax240 = ax

# ---------------- 60 minute chart ----------------
c = np.array(m60_close, float)
o = np.r_[m60_first_open, c[:-1]]
h, l = hl_from(o, c, 4.0)
atr = ema(true_range(h, l, c), 14, 11)
ax = px_axes(786, 50, 1551, 494)
style(ax, (-1.96, 134.8), (6639, 6929.8), m60_yticks, fmt2(m60_yticks), bottom=True)
xaxis(ax, m60_ticks, m60_ticklabels)
bands(ax, c, atr, 20, 6821, 3.0, 3.5)
for sx in m60_sessions:
    ax.axvline(sx, color='#8c8c98', lw=0.8, ls=(0, (3, 2)), zorder=1.8)
levels(ax, m60_teal, '#1f8f86')
levels(ax, m60_darkred, '#b01a1a')
levels(ax, m60_salmon, '#f27a6a')
ohlc(ax, o, h, l, c, 0.35)
plot_stop(ax, m60_stop, m60_stop_col)
arrows(ax, m60_up, '#0010e0')
ax60 = ax

# ---------------- 15 minute chart ----------------
c = np.array(m15_close, float)
o = np.r_[m15_first_open, c[:-1]]
h, l = hl_from(o, c, 2.5)
atr = ema(true_range(h, l, c), 14, 6.5)
ax = px_axes(1652, 51, 2421, 494)
style(ax, (-1.8, 138.3), (6722.9, 6907.6), m15_yticks, fmt2(m15_yticks),
      minor=list(range(6730, 6901, 10)), bottom=True)
xaxis(ax, m15_ticks, m15_ticklabels)
bands(ax, c, atr, 20, 6875, 3.0, 3.6)
for sx in m15_sessions:
    ax.axvline(sx, color='#7c7c88', lw=1.0, ls=(0, (4, 3)), zorder=1.8)
levels(ax, m15_teal, '#1f8f86')
levels(ax, m15_darkred, '#b01a1a')
levels(ax, m15_salmon, '#f27a6a')
ohlc(ax, o, h, l, c, 0.4)
plot_stop(ax, m15_stop, m15_stop_col)
arrows(ax, m15_up, '#0010e0')
arrows(ax, m15_down, '#b01c1c', up=False)
ax15 = ax

# ---------------- weekly chart ----------------
o = np.array(wk_open, float)
c = np.array(wk_close, float)
h, l = hl_from(o, c, 35.0, wk_high_ext, wk_low_ext)
atr = ema(true_range(h, l, c), 14, 125)
xl = (-2.27, 85.7)
ax = px_axes(12, 892, 688, 1449)
axh = px_axes(12, 1449, 688, 1655)
style(ax, xl, (4884, 7015.8), list(range(5000, 6901, 100)), fmt2(range(5000, 6901, 100)))
style(axh, xl, (-3.57, 5.52), [5, 3, 1, -1, -3], ['5', '3', '1', '-1', '-3'],
      minor=[4, 2, 0, -2], bottom=True, top=True)
xaxis(axh, wk_ticks, wk_ticklabels)
bands(ax, c, atr, 20, 5397, 2.0, 2.5)
candles(ax, o, h, l, c, 0.55)
plot_stop(ax, wk_stop, wk_stop_col)
arrows(ax, wk_up, '#0010e0')
for yv in (2, 0, -2):
    axh.axhline(yv, color='#c8c8d0', lw=1, zorder=0.5)
axh.bar(np.arange(len(wk_hist)), wk_hist, 0.45, color=[HCOL[k] for k in wk_hist_col], zorder=3)
axh.plot(np.arange(len(wk_line)), wk_line, color=NAVY, lw=1.5, zorder=4)
axwk = ax

# ---------------- daily chart ----------------
o = np.array(d1_open, float)
c = np.array(d1_close, float)
h, l = hl_from(o, c, 18.0, d1_high_ext, d1_low_ext)
atr = ema(true_range(h, l, c), 20, 80)
xl = (-1.95, 166.7)
ax = px_axes(786, 585, 2415, 1247)
axo = px_axes(786, 1247, 2415, 1452)
axh = px_axes(786, 1452, 2415, 1656)
style(ax, xl, (5706, 7064), list(range(5800, 7001, 100)), fmt2(range(5800, 7001, 100)))
style(axo, xl, (-35.5, 123), list(range(-20, 101, 20)), [str(v) for v in range(-20, 101, 20)], top=True)
style(axh, xl, (-1.13, 6.8), list(range(0, 7)), [str(v) for v in range(0, 7)], bottom=True, top=True)
xaxis(axh, d1_ticks, d1_ticklabels)
x = np.arange(len(c))
bands(ax, c, atr, 20, 5971, 2.2, 2.7)
zone = ema(c, 15, 5750)
ax.fill_between(x, zone - 1.1 * atr, zone + 1.1 * atr, color='#c6d1f3', alpha=0.85, lw=0, zorder=1.5)
candles(ax, o, h, l, c, 0.5)
plot_stop(ax, d1_stop, d1_stop_col)
arrows(ax, d1_up, '#0010e0')
axo.axhline(0, color='#c0c0c8', lw=1.2, zorder=0.5)
axo.plot(np.arange(len(d1_osc_slow)), d1_osc_slow, color='#a0521e', lw=1.5, zorder=3)
axo.plot(np.arange(len(d1_osc_fast)), d1_osc_fast, color='#16168a', lw=1.5, zorder=4)
axh.axhline(0, color='#c0c0c8', lw=1.2, zorder=0.5)
axh.axhline(2, color='#d0d0d8', lw=1.0, zorder=0.5)
hc = [HCOL['b'] if i in d1_hist_blue else HGRAY for i in range(len(d1_hist))]
axh.bar(np.arange(len(d1_hist)), d1_hist, 0.3, color=hc, zorder=3)
axh.plot(np.arange(len(d1_hist_line)), d1_hist_line, color=NAVY, lw=1.6, zorder=4)
axd1 = ax

# ---------------- texts & tags (top overlay) ----------------
top = fig.add_axes([0, 0, 1, 1], zorder=10)
top.set_xlim(0, W)
top.set_ylim(H, 0)
top.axis('off')
top.patch.set_alpha(0)

heads = [(26, 103, 131, 'Remek!  ES DEC25  240 Minute  2025-11-14 2:36 AM', '3 ATR = 5188 USD', 12.5, 12.7),
         (798, 104, 131, 'Remek!  ES DEC25  60 Minute  2025-11-14 2:36 AM', '3 ATR = 2612 USD', 12.3, 12.5),
         (1665, 104, 131, 'Remek!  ES DEC25  15 Minute  2025-11-14 2:36 AM', '3 ATR = 1362 USD', 12.3, 12.5),
         (25, 946, 972, 'Remek!  ES DEC25  Weekly  2025-11-14 2:36 AM', '3 ATR = 27388 USD', 12.3, 12.8),
         (802, 647, 681, 'Remek!  ES DEC25  Daily  2025-11-14 2:36 AM', '3 ATR = 12562 USD', 20, 13.8)]
for hx0, y1, y2, t1, t2, f1, f2 in heads:
    top.text(hx0, y1, t1, color='#6c6c6c', fontsize=f1, ha='left', va='center')
    top.text(hx0 + 1, y2, t2, color='#5a5a5a', fontsize=f2, ha='left', va='center')

for cx_, cy_ in [(17, 784), (786, 478), (1657, 478), (17, 1639), (786, 1638)]:
    top.text(cx_, cy_, '\u00a9 2025 NinjaTrader, LLC', color='#6a6a6a', fontsize=12.3,
             ha='left', va='center')

for ax_x, ay in [(652, 81), (2378, 615)]:
    top.text(ax_x, ay, '\u2190', color='#6a6a6a', fontsize=26, ha='center', va='center',
             family=['DejaVu Sans'])

for a_, tx0, tx1 in [(ax240, 684, 763), (ax60, 1549, 1630), (ax15, 2416, 2499),
                     (axwk, 684, 763), (axd1, 2409, 2491)]:
    yy = H - a_.transData.transform((0, LAST))[1]
    top.add_patch(Polygon([(tx0, yy), (tx0 + 8, yy - 10), (tx1, yy - 10), (tx1, yy + 10),
                           (tx0 + 8, yy + 10)], fc='#ffff00', ec='#b4b400', lw=0.8))
    top.text((tx0 + tx1) / 2 + 4, yy + 0.5, '6741.75', color='black', fontsize=12.5,
             ha='center', va='center')

fig.savefig('out.png', dpi=100, facecolor=fig.get_facecolor())
